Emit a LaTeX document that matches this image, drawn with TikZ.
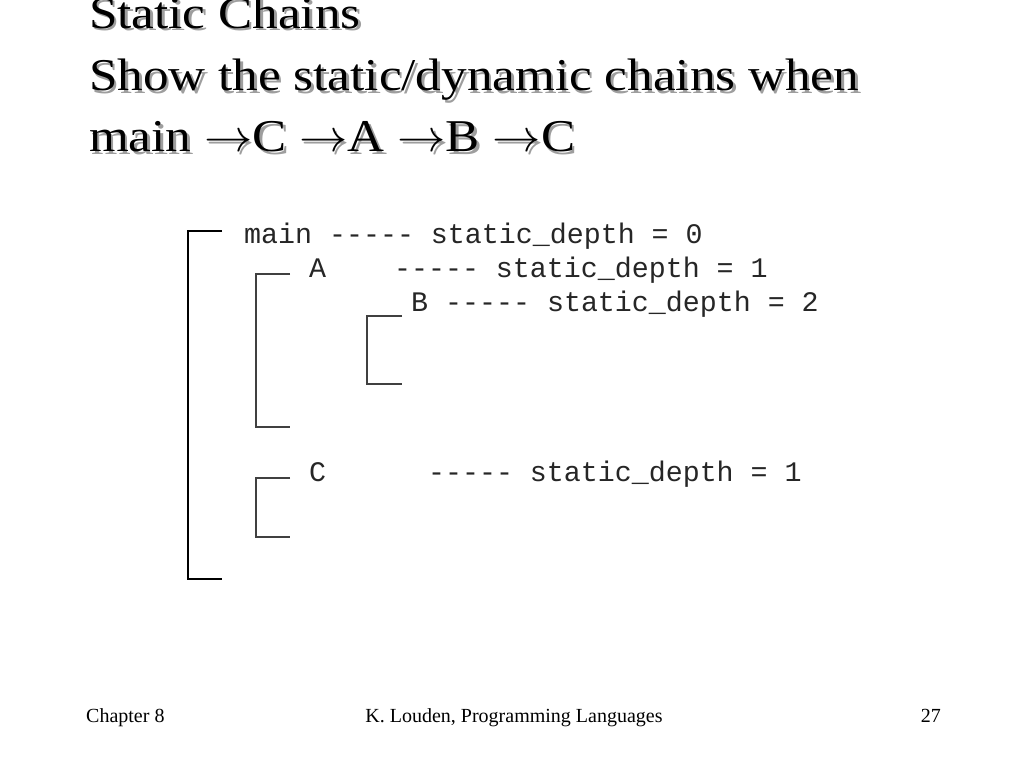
\documentclass[tikz,border=0pt]{standalone}
\usepackage{fontspec}
\setmainfont{Liberation Serif}
\setmonofont{Liberation Mono}
\tikzset{
  titletext/.style={anchor=base west, inner sep=0pt, font=\rmfamily\fontsize{45.5}{50}\selectfont},
  shadowtext/.style={titletext, text=black!38},
  codetext/.style={anchor=base west, inner sep=0pt, font=\ttfamily\fontsize{28.3}{34}\selectfont, text=black!85},
  foottext/.style={inner sep=0pt, font=\rmfamily\fontsize{20}{24}\selectfont},
  outerbr/.style={draw=black, line width=1.8pt},
  innerbr/.style={draw=black!75, line width=1.8pt}
}
\newcommand{\ttl}[1]{\scalebox{1.124}[1]{#1}}
\newcommand{\rarr}{\scalebox{4.3}[4.55]{\normalsize$\rightarrow$}}
\begin{document}
\begin{tikzpicture}[x=1pt,y=-1pt]
\useasboundingbox (0,0) rectangle (1024,768);
\clip (0,0) rectangle (1024,768);
\fill[white] (0,0) rectangle (1024,768);
% title shadows
\node[shadowtext] (t1s) at (91.5,30.8) {\ttl{Static Chains}};
\node[shadowtext] (t2s) at (91.5,93.2) {\ttl{Show the static/dynamic chains when}};
\node[shadowtext] (t3s) at (91.5,154.2) {\ttl{main \rarr C \rarr A \rarr B \rarr C}};
% title
\node[titletext] (t1) at (89,28.3) {\ttl{Static Chains}};
\node[titletext] (t2) at (89,90.7) {\ttl{Show the static/dynamic chains when}};
\node[titletext] (t3) at (89,151.7) {\ttl{main \rarr C \rarr A \rarr B \rarr C}};
% code lines
\node[codetext] (lmain) at (244,243) {main ----- static\_depth = 0};
\node[codetext] (lA) at (309,277) {A\ \ \ \ ----- static\_depth = 1};
\node[codetext] (lB) at (411,311) {B ----- static\_depth = 2};
\node[codetext] (lC) at (309,481) {C\ \ \ \ \ \ ----- static\_depth = 1};
% brackets
\draw[outerbr] (222,231) -- (188,231) -- (188,579) -- (222,579);
\draw[innerbr] (290,274) -- (256,274) -- (256,427) -- (290,427);
\draw[innerbr] (402,316) -- (367,316) -- (367,384) -- (402,384);
\draw[innerbr] (290,478) -- (256,478) -- (256,537) -- (290,537);
% footer
\node[foottext, anchor=base west] (f1) at (86,722) {Chapter 8};
\node[foottext, anchor=base] (f2) at (514,722) {K. Louden, Programming Languages};
\node[foottext, anchor=base east] (f3) at (941,722) {27};
\end{tikzpicture}
\end{document}
